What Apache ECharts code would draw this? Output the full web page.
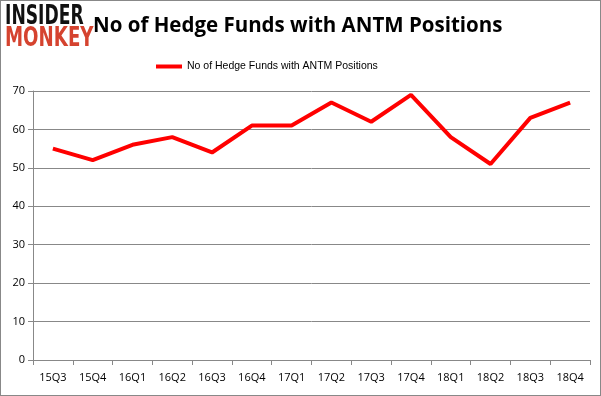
<!DOCTYPE html>
<html>
<head>
<meta charset="utf-8">
<script src="https://cdn.jsdelivr.net/npm/echarts@6/dist/echarts.min.js"></script>
<style>
  html, body { margin: 0; padding: 0; background: #fff; }
  #chart { width: 601px; height: 396px; box-sizing: border-box; border: 1px solid #888; }
</style>
</head>
<body>
<div id="chart"></div>
<script>
const quarters = ['15Q3', '15Q4', '16Q1', '16Q2', '16Q3', '16Q4', '17Q1', '17Q2', '17Q3', '17Q4', '18Q1', '18Q2', '18Q3', '18Q4'];
const hedgeFunds = [55, 52, 56, 58, 54, 61, 61, 67, 62, 69, 58, 51, 63, 67];
const seriesName = 'No of Hedge Funds with ANTM Positions';

const chart = echarts.init(document.getElementById('chart'));

chart.setOption({
  animation: false,
  title: {
    text: seriesName,
    left: 87,
    top: 10,
    textStyle: { fontFamily: 'Open Sans', fontSize: 20.5, fontWeight: 'bold', color: '#000' }
  },
  graphic: [
    {
      type: 'rect', z: 9,
      shape: { x: 0, y: 2, width: 91, height: 50 },
      style: { fill: '#fff' }
    },
    {
      type: 'text', x: 4, y: 3, z: 10, scaleX: 0.66,
      style: { text: 'INSIDER', fontFamily: 'DejaVu Sans', fontWeight: 'bold', fontSize: 26, fill: '#111' }
    },
    {
      type: 'text', x: 4, y: 25, z: 10, scaleX: 0.7,
      style: { text: 'MONKEY', fontFamily: 'DejaVu Sans', fontWeight: 'bold', fontSize: 26, fill: '#d5432f' }
    }
  ],
  legend: {
    data: [seriesName],
    top: 55,
    left: 150,
    itemWidth: 26,
    itemHeight: 4,
    itemGap: 4,
    icon: 'rect',
    textStyle: { fontFamily: 'Liberation Sans', fontSize: 10.5, color: '#000' }
  },
  grid: { left: 32, right: 10, top: 90, bottom: 35, containLabel: false },
  xAxis: {
    type: 'category',
    data: quarters,
    boundaryGap: true,
    axisLine: { lineStyle: { color: '#888' } },
    axisTick: { show: true, alignWithLabel: false, lineStyle: { color: '#888' } },
    axisLabel: { fontFamily: 'Open Sans', fontSize: 11, color: '#000', margin: 12 }
  },
  yAxis: {
    type: 'value',
    min: 0,
    max: 70,
    interval: 10,
    axisLine: { show: true, lineStyle: { color: '#888' } },
    axisTick: { show: true, lineStyle: { color: '#888' } },
    splitLine: { lineStyle: { color: '#888' } },
    axisLabel: { fontFamily: 'Open Sans', fontSize: 11, color: '#000', margin: 8 }
  },
  series: [{
    name: seriesName,
    type: 'line',
    data: hedgeFunds,
    symbol: 'none',
    lineStyle: { color: '#ff0000', width: 4 },
    itemStyle: { color: '#ff0000' }
  }]
});
</script>
</body>
</html>
